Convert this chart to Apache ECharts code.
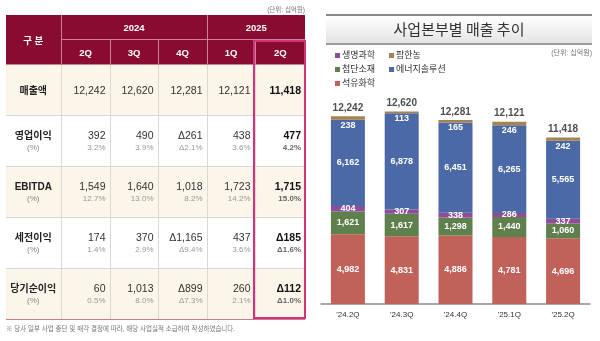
<!DOCTYPE html>
<html><head><meta charset="utf-8">
<script src="https://cdn.jsdelivr.net/npm/echarts/dist/echarts.min.js"></script>
<style>
body{margin:0;width:600px;height:341px;overflow:hidden;background:#fff;font-family:"Liberation Sans","Noto Sans CJK KR",sans-serif;position:relative;}
#chart{position:absolute;left:0;top:0;width:600px;height:341px;}
#tbl{position:absolute;left:6px;top:15px;border-collapse:collapse;table-layout:fixed;width:299px;}
#tbl th{background:#8a0b30;color:#fff;font-weight:bold;font-size:9.5px;text-align:center;padding:0;border-right:1px solid #c58595;border-bottom:1px solid #c58595;height:24px;}
#tbl th.last{border-right:none;}
#tbl td{padding:0 4px 0 0;border-right:1px solid #d9d9d9;border-bottom:1px solid #d9d9d9;text-align:right;vertical-align:middle;height:50px;}
#tbl td.lbl{text-align:center;padding:0;}
#tbl td.last{border-right:none;}
#tbl tr.cream td{background:#fbf5ea;}
#tbl tr.final td{border-bottom:1px solid #c77d8f;}
.v{font-size:10.5px;color:#333;line-height:13px;}
.p{font-size:8px;color:#999;line-height:10px;margin-top:1px;}
.lbl .v{font-weight:bold;font-size:10px;color:#222;}
.lbl .p{color:#888;}
td.last .v{font-weight:bold;color:#111;}
td.last .p{color:#666;font-weight:bold;}
#hl{position:absolute;left:253px;top:40px;width:53px;height:279px;border:2.5px solid #d6317b;box-sizing:border-box;}
#unitL{position:absolute;right:295px;top:4px;font-size:6.5px;color:#777;}
#note{position:absolute;left:6px;top:323px;font-size:6.5px;color:#777;}
</style></head>
<body>
<div id="chart"></div>
<div id="unitL">(단위: 십억원)</div>
<table id="tbl"></table>
<div id="hl"></div>
<div id="note">※ 당사 일부 사업 중단 및 매각 결정에 따라, 해당 사업실적 소급하여 작성하였습니다.</div>
<script>
// ---- table data ----
const headerLabel = '구 분';
const years = ['2024', '2025'];
const yearSpans = [3, 2];
const periods = ['2Q', '3Q', '4Q', '1Q', '2Q'];
const rowLabels = ['매출액', '영업이익', 'EBITDA', '세전이익', '당기순이익'];
const revenue = ['12,242', '12,620', '12,281', '12,121', '11,418'];
const opProfit = ['392', '490', 'Δ261', '438', '477'];
const opMargin = ['3.2%', '3.9%', 'Δ2.1%', '3.6%', '4.2%'];
const ebitda = ['1,549', '1,640', '1,018', '1,723', '1,715'];
const ebitdaMargin = ['12.7%', '13.0%', '8.2%', '14.2%', '15.0%'];
const pretax = ['174', '370', 'Δ1,165', '437', 'Δ185'];
const pretaxMargin = ['1.4%', '2.9%', 'Δ9.4%', '3.6%', 'Δ1.6%'];
const netIncome = ['60', '1,013', 'Δ899', '260', 'Δ112'];
const netMargin = ['0.5%', '8.0%', 'Δ7.3%', '2.1%', 'Δ1.0%'];

// ---- chart data ----
const quarters = ["'24.2Q", "'24.3Q", "'24.4Q", "'25.1Q", "'25.2Q"];
const petrochem = [4982, 4831, 4886, 4781, 4696];   // 석유화학
const advMaterials = [1621, 1617, 1298, 1440, 1060]; // 첨단소재
const lifeSciences = [404, 307, 338, 286, 337];      // 생명과학
const energySolution = [6162, 6878, 6451, 6265, 5565]; // 에너지솔루션
const farmHannong = [238, 113, 165, 246, 242];       // 팜한농
const totals = [12242, 12620, 12281, 12121, 11418];

// build table
(function(){
  const rows = [
    [revenue, null], [opProfit, opMargin], [ebitda, ebitdaMargin], [pretax, pretaxMargin], [netIncome, netMargin]
  ];
  let h = '<colgroup><col style="width:55px">';
  [49,48,49,48,50].forEach(w => h += '<col style="width:'+w+'px">');
  h += '</colgroup>';
  h += '<tr><th rowspan="2" style="height:49px">' + headerLabel + '</th>';
  years.forEach((y,i) => h += '<th colspan="'+yearSpans[i]+'"'+(i===years.length-1?' class="last"':'')+'>'+y+'</th>');
  h += '</tr><tr>';
  periods.forEach((p,i) => h += '<th'+(i===periods.length-1?' class="last"':'')+'>'+p+'</th>');
  h += '</tr>';
  rows.forEach((r,ri) => {
    const cls = [];
    if (ri % 2 === 0) cls.push('cream');
    if (ri === rows.length-1) cls.push('final');
    h += '<tr class="'+cls.join(' ')+'"><td class="lbl"><div class="v">'+rowLabels[ri]+'</div>' + (r[1] ? '<div class="p">(%)</div>' : '') + '</td>';
    r[0].forEach((v,ci) => {
      h += '<td'+(ci===r[0].length-1?' class="last"':'')+'><div class="v">'+v+'</div>' + (r[1] ? '<div class="p">'+r[1][ci]+'</div>' : '') + '</td>';
    });
    h += '</tr>';
  });
  document.getElementById('tbl').innerHTML = h;
})();

const fmt = v => Number(v).toLocaleString('en-US');
const stackSum = quarters.map((_, i) => petrochem[i] + advMaterials[i] + lifeSciences[i] + energySolution[i] + farmHannong[i]);
const chart = echarts.init(document.getElementById('chart'));
const inLabel = {show: true, position: 'inside', color: '#fff', fontSize: 9, fontWeight: 'bold', formatter: p => fmt(p.value)};
const font = '"Liberation Sans","Noto Sans CJK KR",sans-serif';
chart.setOption({
  animation: false,
  textStyle: {fontFamily: font},
  title: {text: '사업본부별 매출 추이', left: 459, top: 22, padding: 0, textAlign: 'center',
    textStyle: {fontSize: 15, fontWeight: 'normal', color: '#333', fontFamily: '"Noto Sans CJK KR",sans-serif'}},
  graphic: [
    {type: 'rect', left: 326, top: 16, shape: {width: 266, height: 27}, style: {fill: new echarts.graphic.LinearGradient(0,0,0,1,[{offset:0,color:'#ffffff'},{offset:1,color:'#e4e4e4'}])}, z: -1},
    {type: 'rect', left: 326, top: 14, shape: {width: 266, height: 2}, style: {fill: '#8a8a8a'}},
    {type: 'rect', left: 326, top: 43, shape: {width: 266, height: 2}, style: {fill: '#9c9c9c'}},
    {type: 'text', right: 8, top: 50, style: {text: '(단위: 십억원)', fontSize: 7, fill: '#777', fontFamily: font}}
  ],
  legend: [
    {left: 330, top: 46, orient: 'vertical', icon: 'rect', itemWidth: 5, itemHeight: 5, itemGap: 5,
      data: ['생명과학', '첨단소재', '석유화학'], textStyle: {fontSize: 9, color: '#333', padding: [0,0,0,-3]}},
    {left: 384, top: 46, orient: 'vertical', icon: 'rect', itemWidth: 5, itemHeight: 5, itemGap: 5,
      data: ['팜한농', '에너지솔루션'], textStyle: {fontSize: 9, color: '#333', padding: [0,0,0,-3]}}
  ],
  grid: {left: 321, right: 10, top: 108, bottom: 37},
  xAxis: {type: 'category', data: quarters, axisLine: {lineStyle: {color: '#8c8c8c', width: 1.5}}, axisTick: {show: false},
    axisLabel: {color: '#333', fontSize: 8, margin: 7}},
  yAxis: {type: 'value', min: 0, max: 14000, show: false},
  series: [
    {name: '석유화학', type: 'bar', stack: 's', barWidth: 34, data: petrochem, itemStyle: {color: '#c0625a'}, label: inLabel},
    {name: '첨단소재', type: 'bar', stack: 's', data: advMaterials, itemStyle: {color: '#5f7f4d'}, label: inLabel},
    {name: '생명과학', type: 'bar', stack: 's', data: lifeSciences, itemStyle: {color: '#8e4c9b'}, label: inLabel},
    {name: '에너지솔루션', type: 'bar', stack: 's', data: energySolution, itemStyle: {color: '#4a69a6'}, label: inLabel},
    {name: '팜한농', type: 'bar', stack: 's', data: farmHannong, itemStyle: {color: '#a5834f'}, label: Object.assign({}, inLabel, {position: 'bottom', distance: 1})},
    {name: '합계', type: 'scatter', data: stackSum, symbolSize: 0, silent: true, z: 10,
      label: {show: true, position: 'top', distance: 3, fontSize: 10, fontWeight: 'bold', color: '#222', formatter: p => fmt(totals[p.dataIndex])}}
  ]
});
</script>
</body></html>
